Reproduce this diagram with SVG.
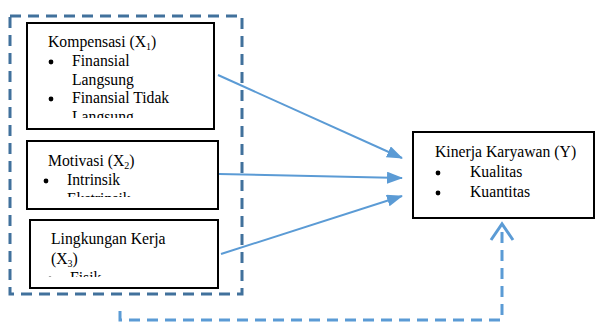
<svg xmlns="http://www.w3.org/2000/svg" width="595" height="322" viewBox="0 0 595 322">
<style>
.box{fill:#fff;stroke:#000;stroke-width:2}
text{font-family:"Liberation Serif","Times New Roman",serif;font-size:15.7px;fill:#000}
.sub{font-size:10px}
.con{stroke:#5B9BD5;stroke-width:2;fill:none}
.outer{fill:none;stroke:#41719C;stroke-width:3;stroke-dasharray:11 7}
.fb{fill:none;stroke:#5B9BD5;stroke-width:3;stroke-dasharray:11 7}
circle{fill:#000}
</style>
<defs>
<marker id="ah" markerWidth="16" markerHeight="12" refX="15" refY="6" orient="auto" markerUnits="userSpaceOnUse">
<path d="M0,0 L16,6 L0,12 Z" fill="#5B9BD5"/>
</marker>
<clipPath id="c1"><rect x="28" y="24" width="185" height="94"/></clipPath>
<clipPath id="c2"><rect x="28" y="142" width="189" height="55"/></clipPath>
<clipPath id="c3"><rect x="31" y="221" width="186" height="56"/></clipPath>
</defs>
<rect class="outer" x="10" y="16" width="232" height="278"/>
<g id="x1">
<rect class="box" x="27" y="23" width="187" height="106"/>
<g clip-path="url(#c1)">
<text x="48" y="47">Kompensasi (X<tspan class="sub" dy="3">1</tspan><tspan dy="-3">)</tspan></text>
<circle cx="51" cy="62" r="2.4"/>
<text x="72" y="66">Finansial</text>
<text x="72" y="85">Langsung</text>
<circle cx="51" cy="99" r="2.4"/>
<text x="72" y="103">Finansial Tidak</text>
<text x="72" y="122">Langsung</text>
</g>
</g>
<g id="x2">
<rect class="box" x="27" y="141" width="191" height="68"/>
<g clip-path="url(#c2)">
<text x="48" y="166">Motivasi (X<tspan class="sub" dy="3">2</tspan><tspan dy="-3">)</tspan></text>
<circle cx="46" cy="181" r="2.4"/>
<text x="67" y="185">Intrinsik</text>
<circle cx="46" cy="200" r="2.4"/>
<text x="67" y="204">Ekstrinsik</text>
</g>
</g>
<g id="x3">
<rect class="box" x="30" y="220" width="188" height="68"/>
<g clip-path="url(#c3)">
<text x="51" y="244">Lingkungan Kerja</text>
<text x="51" y="264">(X<tspan class="sub" dy="3">3</tspan><tspan dy="-3">)</tspan></text>
<circle cx="50" cy="279" r="2.4"/>
<text x="70" y="283">Fisik</text>
</g>
</g>
<g id="y">
<rect class="box" x="413" y="132" width="181" height="86"/>
<text x="435" y="157">Kinerja Karyawan (Y)</text>
<circle cx="438" cy="173" r="2.4"/>
<text x="470" y="177">Kualitas</text>
<circle cx="438" cy="193" r="2.4"/>
<text x="470" y="197">Kuantitas</text>
</g>
<g id="connectors">
<line class="con" x1="218" y1="75" x2="402" y2="158" marker-end="url(#ah)"/>
<line class="con" x1="219" y1="174" x2="402" y2="178" marker-end="url(#ah)"/>
<line class="con" x1="221" y1="254" x2="402" y2="196" marker-end="url(#ah)"/>
<path class="fb" d="M120,311 L120,320 L502,320 L502,225"/>
<path d="M491,240 L502,224 L513,240" fill="none" stroke="#5B9BD5" stroke-width="3"/>
</g>
</svg>
